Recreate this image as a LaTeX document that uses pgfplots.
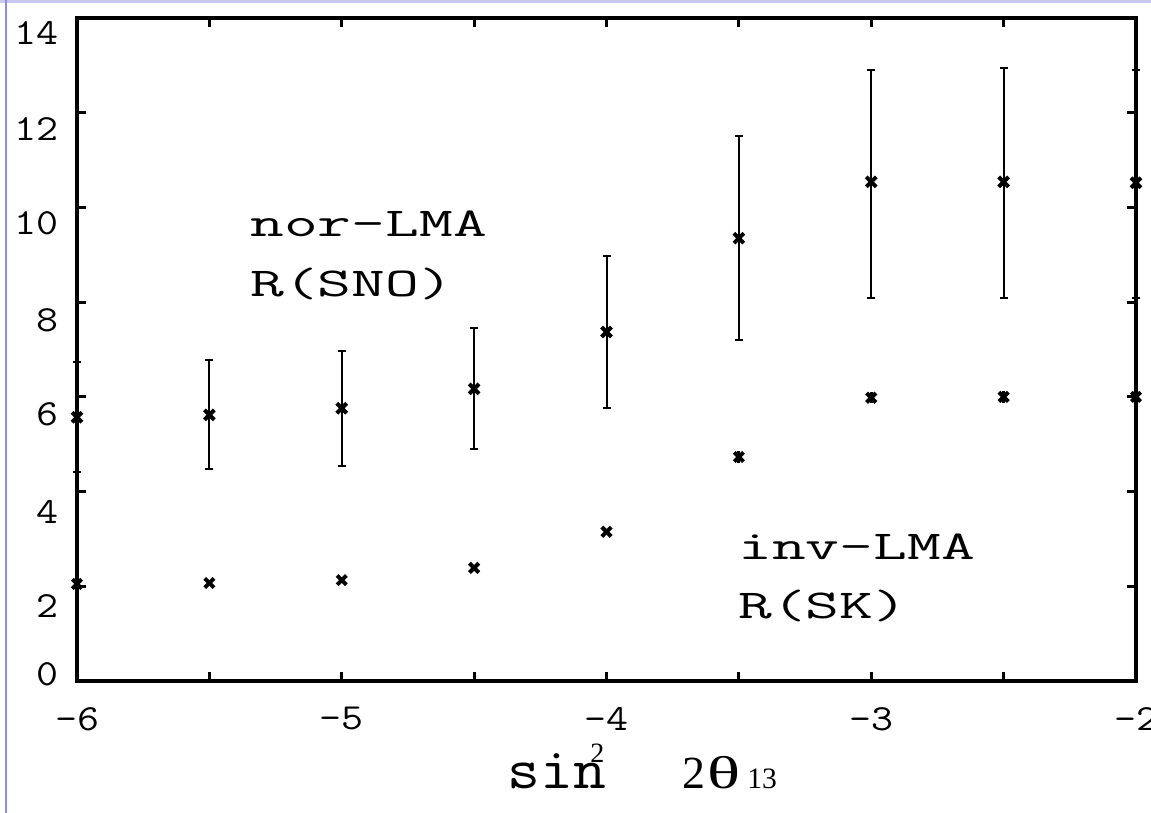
\documentclass[border=0pt]{standalone}
\usepackage{fontspec}
\setmainfont{Liberation Serif}
\usepackage{pgfplots}
\pgfplotsset{compat=1.18}
\usepackage{pgfplotstable}
\usepackage{graphicx}

% typewriter text, stretched sideways as in the scanned original
\newcommand{\tk}[1]{\scalebox{1.16}[1]{#1}}
\newcommand{\note}[1]{{\ttfamily\fontsize{20.5bp}{22bp}\selectfont\scalebox{1.6}[1]{#1}}}

% nor-LMA, R(SNO): value, upper and lower error
\pgfplotstableread{
x     y      ep    em
-6.0  5.57   1.17  1.16
-5.5  5.62   1.16  1.14
-5.0  5.76   1.21  1.22
-4.5  6.17   1.28  1.27
-4.0  7.37   1.60  1.61
-3.5  9.35   2.16  2.15
-3.0  10.54  2.36  2.45
-2.5  10.54  2.40  2.45
-2.0  10.52  2.38  2.43
}\sno

% inv-LMA, R(SK)
\pgfplotstableread{
x     y     ep    em
-6.0  2.05  0     0
-5.5  2.07  0     0
-5.0  2.13  0     0
-4.5  2.39  0     0
-4.0  3.15  0     0
-3.5  4.73  0.12  0.12
-3.0  5.98  0.12  0.12
-2.5  6.00  0.12  0.12
-2.0  6.00  0.12  0.12
}\sk

\begin{document}
\begin{tikzpicture}
\useasboundingbox (-38.5bp,-66bp) rectangle (537bp,340.5bp);
% thin frame lines of the original scan
\fill[color={rgb,255:red,200;green,200;blue,240}] (-38.5bp,339.2bp) rectangle (537bp,340.5bp);
\fill[color={rgb,255:red,140;green,140;blue,225}] (-35.75bp,-66bp) rectangle (-35.1bp,340.5bp);

\begin{axis}[
    at={(0,0)}, anchor=south west,
    scale only axis,
    width=529.5bp, height=331.5bp,
    xmin=-6, xmax=-2,
    ymin=0, ymax=14,
    clip=false,
    axis line style={line width=2bp},
    tick align=inside,
    major tick length=4.5bp,
    tick style={line width=1.5bp, black},
    xtick={-6,-5.5,...,-2},
    xticklabels={\tk{-6},,\tk{-5},,\tk{-4},,\tk{-3},,\tk{-2}},
    ytick={0,2,...,14},
    yticklabels={\raisebox{-2bp}{\tk{0}},\raisebox{-15.5bp}{\tk{2}},\raisebox{-16bp}{\tk{4}},
                 \raisebox{-14.5bp}{\tk{6}},\raisebox{-14.5bp}{\tk{8}},\raisebox{-13.5bp}{\tk{10}},
                 \raisebox{-14bp}{\tk{12}},\raisebox{-13.25bp}{\tk{14}}},
    xticklabel style={anchor=north, inner sep=0pt, yshift=-13bp,
        font=\ttfamily\fontsize{18.4bp}{20bp}\selectfont},
    yticklabel style={anchor=base east, inner sep=0pt, xshift=-9bp,
        font=\ttfamily\fontsize{18.4bp}{20bp}\selectfont},
]
\addplot[only marks, black, mark=x, mark size=3.5bp,
    mark options={line width=2bp},
    error bars/.cd, y dir=both, y explicit,
    error bar style={line width=1bp, black},
    error mark options={rotate=90, mark size=2bp, line width=1bp, black}]
    table[x=x, y=y, y error plus=ep, y error minus=em] {\sno};
\addplot[only marks, black, mark=x, mark size=3.3bp,
    mark options={line width=2bp},
    error bars/.cd, y dir=both, y explicit,
    error bar style={line width=1.5bp, black},
    error mark=none]
    table[x=x, y=y, y error plus=ep, y error minus=em] {\sk};
\end{axis}

% annotations
\begin{scope}[every node/.style={anchor=base west, inner sep=0pt}]
\node at (86.5bp,222bp) {\note{nor-LMA}};
\node at (86.5bp,192bp) {\note{R(SNO)}};
\node at (330.5bp,60.5bp) {\note{inv-LMA}};
\node at (330.5bp,31.5bp) {\note{R(SK)}};
% x axis label: sin^2 2theta_13
\node at (215bp,-53.5bp) {\ttfamily\fontsize{29bp}{32bp}\selectfont\scalebox{1.1}[1]{sin}};
\node at (256.5bp,-40.5bp) {\fontsize{14bp}{16bp}\selectfont 2};
\node at (302.5bp,-53.5bp) {\fontsize{23bp}{26bp}\selectfont 2};
\node at (315bp,-53.5bp) {\fontsize{23bp}{26bp}\selectfont\scalebox{1.5}[1]{θ}};
\node at (335bp,-53.5bp) {\fontsize{14.8bp}{16bp}\selectfont 13};
\end{scope}
\end{tikzpicture}
\end{document}
